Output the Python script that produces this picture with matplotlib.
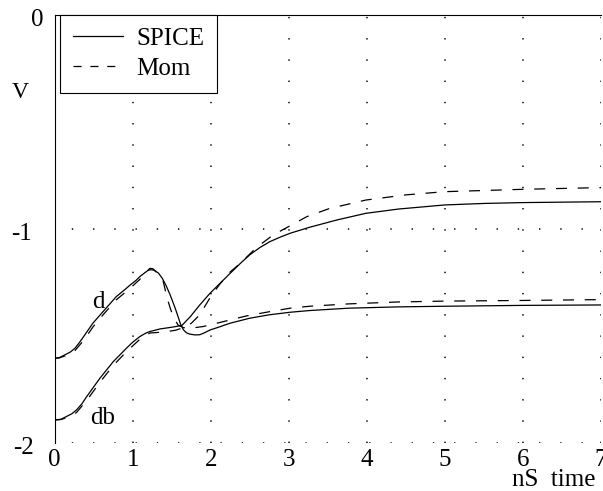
import matplotlib
matplotlib.use("Agg")
import matplotlib.pyplot as plt
from matplotlib.lines import Line2D
from matplotlib.transforms import blended_transform_factory, ScaledTranslation

plt.rcParams['font.family'] = ['Liberation Serif', 'DejaVu Serif']

# ---- data (time in nS, voltage in V) ----
t_d_spice = [0, 0.06, 0.13, 0.2, 0.26, 0.32, 0.37, 0.49, 0.62, 0.79, 0.9, 0.97,
             1.04, 1.09, 1.15, 1.19, 1.22, 1.25, 1.28, 1.33, 1.38, 1.43, 1.48,
             1.52, 1.56, 1.61, 1.65, 1.69, 1.73, 1.8, 1.86, 1.92, 1.99, 2.1,
             2.25, 2.5, 2.75, 3.02, 3.27, 3.77, 4.4, 5.0, 6.0, 7.0]
v_d_spice = [-1.603, -1.600, -1.587, -1.574, -1.556, -1.528, -1.502, -1.439, -1.385,
             -1.315, -1.282, -1.260, -1.240, -1.222, -1.205, -1.194, -1.190, -1.190,
             -1.193, -1.205, -1.230, -1.265, -1.307, -1.345, -1.385, -1.440, -1.470,
             -1.484, -1.490, -1.494, -1.493, -1.484, -1.471, -1.458, -1.439, -1.416,
             -1.400, -1.388, -1.380, -1.369, -1.363, -1.360, -1.356, -1.354]

t_d_mom = [0, 0.06, 0.13, 0.2, 0.26, 0.37, 0.49, 0.62, 0.79, 0.97, 1.09, 1.16,
           1.22, 1.26, 1.30, 1.35, 1.39, 1.44, 1.48, 1.52, 1.58, 1.65, 1.75, 1.9,
           2.16, 2.46, 2.76, 3.02, 3.27, 3.77, 4.4, 5.0, 6.0, 7.0]
v_d_mom = [-1.603, -1.601, -1.592, -1.580, -1.567, -1.520, -1.457, -1.400, -1.330,
           -1.275, -1.235, -1.205, -1.183, -1.185, -1.200, -1.222, -1.242, -1.320,
           -1.368, -1.408, -1.447, -1.460, -1.462, -1.455, -1.432, -1.405, -1.385,
           -1.369, -1.360, -1.349, -1.340, -1.336, -1.333, -1.329]

t_db_spice = [0, 0.08, 0.15, 0.22, 0.28, 0.35, 0.41, 0.58, 0.75, 0.92, 1.0, 1.09,
              1.16, 1.22, 1.35, 1.5, 1.63, 1.74, 1.86, 1.99, 2.12, 2.25, 2.38, 2.5,
              2.63, 2.76, 2.9, 3.02, 3.27, 3.62, 3.99, 4.41, 5.0, 5.5, 6.0, 7.0]
v_db_spice = [-1.891, -1.888, -1.875, -1.862, -1.844, -1.815, -1.782, -1.696, -1.619,
              -1.556, -1.528, -1.502, -1.487, -1.478, -1.466, -1.458, -1.450, -1.408,
              -1.354, -1.300, -1.253, -1.206, -1.160, -1.120, -1.086, -1.058, -1.036,
              -1.019, -0.991, -0.957, -0.926, -0.906, -0.887, -0.880, -0.876, -0.872]

t_db_mom = [0, 0.08, 0.15, 0.22, 0.28, 0.41, 0.58, 0.75, 0.92, 1.09, 1.22, 1.41,
            1.55, 1.65, 1.75, 1.86, 2.0, 2.12, 2.25, 2.38, 2.59, 2.80, 3.04, 3.23,
            3.52, 3.99, 4.5, 5.0, 6.0, 7.0]
v_db_mom = [-1.891, -1.889, -1.880, -1.870, -1.856, -1.800, -1.715, -1.637, -1.572,
            -1.515, -1.485, -1.480, -1.472, -1.460, -1.440, -1.400, -1.315, -1.255,
            -1.200, -1.159, -1.085, -1.027, -0.980, -0.942, -0.904, -0.864, -0.840,
            -0.825, -0.814, -0.806]

x_ticks = [0, 1, 2, 3, 4, 5, 6, 7]
x_tick_labels = ['0', '1', '2', '3', '4', '5', '6', '7']
y_ticks = [0, -1, -2]
y_tick_labels = ['0', '-1', '-2']
grid_x = [1, 2, 3, 4, 5, 6, 7]
grid_y = [-1, -2]
series_labels = ['SPICE', 'Mom']
curve_names = ['d', 'db']
curve_name_pos = [(0.56, -1.338), (0.62, -1.883)]

# ---- figure ----
W, H = 603, 491
fig = plt.figure(figsize=(W / 100, H / 100), dpi=100)
L, R, T, B = 54.7, 600.7, 15.0, 443.3
ax = fig.add_axes([L / W, (H - B) / H, (R - L) / W, (B - T) / H])
ax.set_xlim(0, 7)
ax.set_ylim(-2, 0)
ax.set_xticks([])
ax.set_yticks([])
for s in ['right', 'bottom']:
    ax.spines[s].set_visible(False)
for s in ['left', 'top']:
    ax.spines[s].set_linewidth(0.8)
    ax.spines[s].set_color('black')

dot = (0, (0.9, 13.0))
for gx in grid_x:
    ax.axvline(gx, color='black', lw=1.1, ls=dot, zorder=1)
for gy in grid_y:
    ax.axhline(gy, color='black', lw=1.1, ls=(2.9, (0.9, 13.0)), zorder=1)

dash = (0, (8.8, 8.6))
ax.plot(t_d_spice, v_d_spice, color='black', lw=0.9, zorder=3)
ax.plot(t_db_spice, v_db_spice, color='black', lw=0.9, zorder=3)
ax.plot(t_d_mom, v_d_mom, color='black', lw=0.9, ls=dash, zorder=3)
ax.plot(t_db_mom, v_db_mom, color='black', lw=0.9, ls=dash, zorder=3)

for name, (cx, cy) in zip(curve_names, curve_name_pos):
    ax.text(cx, cy, name, fontsize=18, ha='center', va='center')

# tick labels
fs = 18
ylab_x = [37, 22, 23]
tr_y = blended_transform_factory(fig.transFigure, ax.transData)
for v, lab, px in zip(y_ticks, y_tick_labels, ylab_x):
    ax.text(px / W, v, lab, fontsize=fs, ha='center', va='center',
            transform=tr_y + ScaledTranslation(0, -5 / 100, fig.dpi_scale_trans),
            clip_on=False)
tr_x = blended_transform_factory(ax.transData, fig.transFigure)
for v, lab in zip(x_ticks, x_tick_labels):
    ax.text(v, (H - 460) / H, lab, fontsize=fs, ha='center', va='center',
            transform=tr_x, clip_on=False)

fig.text(20 / W, (H - 92.5) / H, 'V', fontsize=17, ha='center', va='center')
fig.text(596 / W, (H - 480) / H, 'nS  time', fontsize=fs, ha='right', va='center')

handles = [Line2D([], [], color='black', lw=0.9),
           Line2D([], [], color='black', lw=0.9, ls=(0, (6.5, 7.0)))]
leg = ax.legend(handles, series_labels, loc='upper left',
                bbox_to_anchor=(60 / W, (H - 15) / H), bbox_transform=fig.transFigure,
                borderaxespad=0, fontsize=fs, frameon=True, fancybox=False,
                edgecolor='black', framealpha=1, handlelength=2.0,
                handletextpad=0.56, borderpad=0.5, labelspacing=0.3)
leg.get_frame().set_linewidth(0.8)
leg.set_zorder(5)

fig.savefig('out.png', dpi=100)
